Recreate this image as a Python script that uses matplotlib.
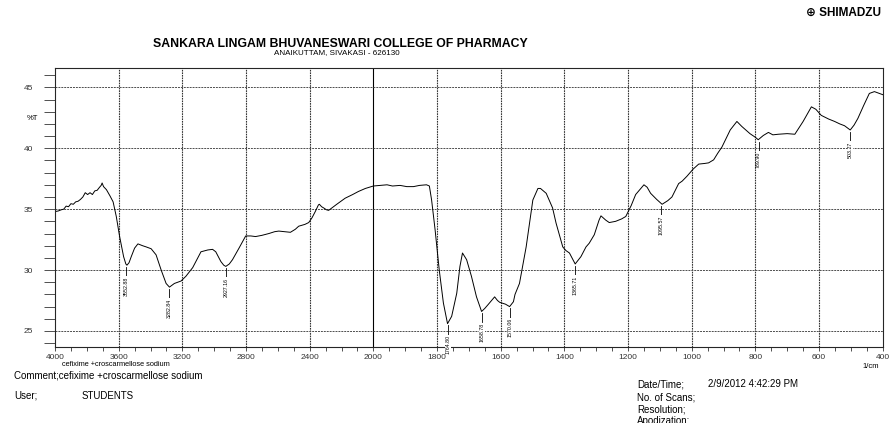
import numpy as np
import matplotlib
matplotlib.use("Agg")
import matplotlib.pyplot as plt
from matplotlib.ticker import FixedLocator, NullFormatter

plt.rcParams["font.family"] = ["Liberation Sans", "DejaVu Sans"]

# spectrum (wavenumber 1/cm, %T)
wavenumber = [4000, 3980, 3960, 3945, 3930, 3915, 3900, 3885, 3870, 3855, 3840, 3825,
              3810, 3795, 3780, 3765, 3750, 3735, 3720, 3710, 3704, 3695, 3677, 3655,
              3635, 3615, 3594, 3569, 3555, 3548, 3535, 3521, 3500, 3479, 3450, 3427,
              3396, 3365, 3333, 3302, 3281, 3265, 3250, 3208, 3177, 3135, 3083, 3040,
              3010, 2990, 2958, 2940, 2927, 2905, 2885, 2844, 2802, 2770, 2740, 2700,
              2656, 2620, 2594, 2560, 2521, 2490, 2469, 2430, 2406, 2385, 2365, 2345,
              2339, 2325, 2312, 2295, 2281, 2230, 2177, 2130, 2094, 2050, 2000, 1980,
              1957, 1940, 1916, 1895, 1874, 1855, 1833, 1824, 1817, 1806, 1793, 1780,
              1767, 1754, 1738, 1728, 1720, 1707, 1692, 1676, 1660, 1650, 1640, 1619,
              1610, 1603, 1585, 1572, 1560, 1555, 1541, 1520, 1499, 1483, 1475, 1457,
              1437, 1426, 1405, 1395, 1384, 1366, 1348, 1332, 1322, 1306, 1291, 1285,
              1270, 1259, 1239, 1220, 1207, 1190, 1176, 1160, 1150, 1140, 1129, 1110,
              1093, 1075, 1062, 1041, 1030, 1015, 995, 978, 960, 947, 931, 918,
              905, 879, 858, 843, 817, 800, 791, 775, 759, 745, 728, 700,
              676, 650, 624, 610, 593, 570, 551, 535, 520, 502, 490, 478,
              460, 442, 426, 410, 400]
transmittance = [34.8, 34.85, 34.95, 35.0, 35.25, 35.2, 35.45, 35.4, 35.6, 35.65, 35.8, 36.0,
                 36.35, 36.2, 36.35, 36.2, 36.5, 36.55, 36.8, 36.95, 37.15, 36.85, 36.6, 36.1,
                 35.6, 34.4, 32.75, 31.1, 30.5, 30.4, 30.6, 31.1, 31.8, 32.15, 32.0, 31.9,
                 31.75, 31.25, 30.0, 28.9, 28.6, 28.75, 28.9, 29.1, 29.5, 30.2, 31.5, 31.65,
                 31.7, 31.5, 30.7, 30.4, 30.3, 30.5, 30.85, 31.8, 32.8, 32.8, 32.75, 32.85,
                 33.0, 33.15, 33.2, 33.15, 33.1, 33.35, 33.6, 33.75, 33.9, 34.3, 34.8, 35.35,
                 35.4, 35.2, 35.1, 34.95, 34.9, 35.4, 35.9, 36.2, 36.45, 36.7, 36.9, 36.95,
                 37.0, 36.9, 36.95, 36.85, 36.85, 36.95, 37.0, 36.9, 35.75, 33.3, 30.0, 27.3,
                 25.6, 26.2, 28.1, 30.3, 31.4, 30.85, 29.5, 27.8, 26.6, 26.85, 27.15, 27.8,
                 27.5, 27.35, 27.2, 27.0, 27.4, 28.0, 28.9, 31.9, 35.75, 36.7, 36.7, 36.3,
                 35.1, 33.85, 31.9, 31.6, 31.4, 30.5, 31.1, 31.9, 32.2, 32.9, 34.1, 34.45,
                 34.1, 33.9, 34.0, 34.2, 34.4, 35.3, 36.2, 36.7, 37.0, 36.8, 36.3, 35.8,
                 35.4, 35.7, 36.0, 37.1, 37.3, 37.7, 38.3, 38.7, 38.75, 38.8, 39.05, 39.6,
                 40.1, 41.5, 42.2, 41.8, 41.2, 40.9, 40.7, 41.05, 41.3, 41.1, 41.15, 41.2,
                 41.15, 42.2, 43.4, 43.2, 42.7, 42.4, 42.2, 42.0, 41.85, 41.5, 41.9, 42.45,
                 43.5, 44.5, 44.65, 44.5, 44.4]

# picked peaks
peak_wn = [3552, 3282, 2927, 1765, 1660, 1570, 1366, 1095, 790, 503]
peak_t = [30.4, 28.6, 30.3, 25.6, 26.6, 27.0, 30.5, 35.4, 40.7, 41.5]
peak_text = ["3552.88", "3282.84", "2927.16", "1764.80", "1658.78", "1570.06",
             "1365.71", "1095.57", "789.90", "503.27"]

major_x = [4000, 3600, 3200, 2800, 2400, 2000, 1800, 1600, 1400, 1200, 1000, 800, 600, 400]
y_ticks = [25, 30, 35, 40, 45]


def fwd(x):
    x = np.asarray(x, dtype=float)
    return np.where(x >= 2000, x, 2 * x - 2000)


def inv(t):
    t = np.asarray(t, dtype=float)
    return np.where(t >= 2000, t, (t + 2000) / 2)


fig = plt.figure(figsize=(8.9, 4.23), dpi=100)
ax = fig.add_axes([0.0618, 0.179, 0.930, 0.660])
ax.set_xscale("function", functions=(fwd, inv))
ax.set_xlim(4000, 400)
ax.set_ylim(23.66, 46.58)

ax.plot(wavenumber, transmittance, color="black", lw=0.7)

for w, t, s in zip(peak_wn, peak_t, peak_text):
    ax.plot([w, w], [t - 0.15, t - 0.9], color="black", lw=0.6)
    ax.text(w, t - 0.95, s, rotation=90, ha="center", va="top", fontsize=3.8,
            bbox=dict(boxstyle="square,pad=0.1", fc="white", ec="none"))

# grid
for x in major_x[1:-1]:
    if x == 2000:
        ax.axvline(x, color="black", lw=0.8, zorder=0)
    else:
        ax.axvline(x, color="0.2", lw=0.8, ls=(0, (1.5, 0.8)), zorder=0)
for y in y_ticks:
    ax.axhline(y, color="0.3", lw=0.7, ls=(0, (2, 1)), zorder=0)

minor_x = list(range(4000, 2000, -100)) + list(range(2000, 399, -50))
ax.xaxis.set_major_locator(FixedLocator(major_x))
ax.xaxis.set_minor_locator(FixedLocator(minor_x))
ax.xaxis.set_minor_formatter(NullFormatter())
ax.set_xticklabels([str(x) for x in major_x])
ax.yaxis.set_major_locator(FixedLocator(y_ticks))
ax.yaxis.set_minor_locator(FixedLocator(list(range(24, 47))))
ax.tick_params(axis="x", which="both", direction="out", length=3, width=0.6,
               labelsize=6, pad=1.5, colors="0.2")
ax.tick_params(axis="y", which="both", direction="out", length=8, width=0.6,
               labelsize=6, pad=8, colors="0.2")
for sp in ax.spines.values():
    sp.set_linewidth(0.8)
    sp.set_color("0.15")

ax.text(-0.02, 0.82, "%T", transform=ax.transAxes, fontsize=5.5, ha="right", va="center")
ax.text(0.985, -0.055, "1/cm", transform=ax.transAxes, fontsize=5.5, ha="center", va="top")

# header
fig.text(0.948, 0.97, "\u2295 SHIMADZU", fontsize=8.5, fontweight="bold", ha="center", va="center")
fig.text(0.382, 0.896, "SANKARA LINGAM BHUVANESWARI COLLEGE OF PHARMACY",
         fontsize=8.8, fontweight="bold", ha="center", va="center")
fig.text(0.379, 0.876, "ANAIKUTTAM, SIVAKASI - 626130", fontsize=5.8,
         ha="center", va="center")

# footer
fig.text(0.07, 0.138, "cefixime +croscarmellose sodium", fontsize=5.3, va="center")
fig.text(0.016, 0.113, "Comment;cefixime +croscarmellose sodium", fontsize=7, va="center")
fig.text(0.016, 0.064, "User;", fontsize=7, va="center")
fig.text(0.092, 0.064, "STUDENTS", fontsize=7, va="center")
fig.text(0.716, 0.092, "Date/Time;", fontsize=7, va="center")
fig.text(0.796, 0.092, "2/9/2012 4:42:29 PM", fontsize=7, va="center")
fig.text(0.716, 0.061, "No. of Scans;", fontsize=7, va="center")
fig.text(0.716, 0.031, "Resolution;", fontsize=7, va="center")
fig.text(0.716, 0.005, "Apodization;", fontsize=7, va="center")

fig.savefig("out.png", dpi=100, facecolor="white")
